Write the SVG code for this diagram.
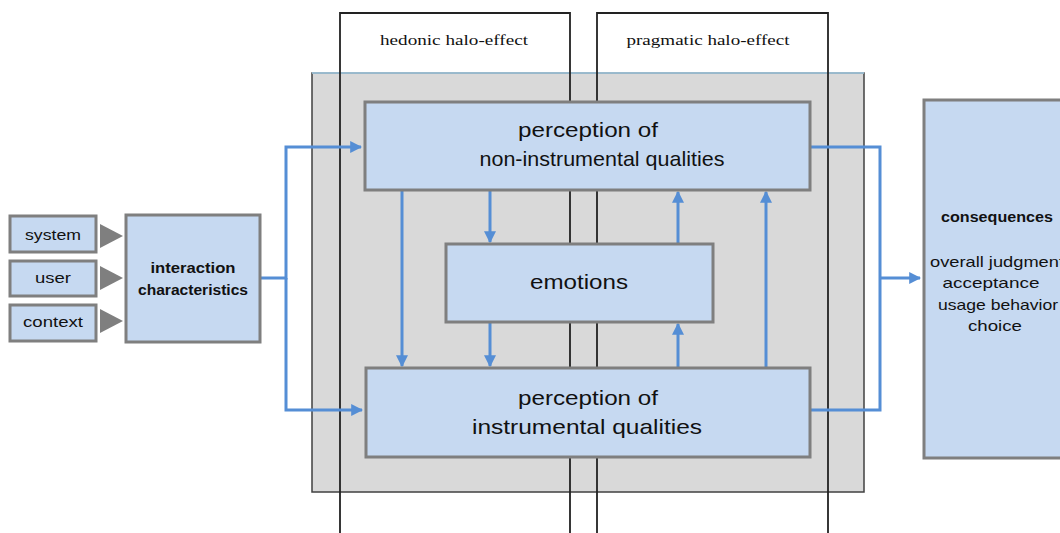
<svg xmlns="http://www.w3.org/2000/svg" width="1060" height="533" viewBox="0 0 1060 533">
<defs>
<style>
.box{fill:#c6d9f1;stroke:#7f7f7f;stroke-width:3}
.halo{fill:none;stroke:#222;stroke-width:1.8}
.conn{fill:none;stroke:#558ed5;stroke-width:3}
.t{font-family:"Liberation Sans",Arial,sans-serif;fill:#111;text-anchor:middle}
.s{font-family:"Liberation Serif","Times New Roman",serif;fill:#111;text-anchor:middle;font-size:15px}
.tri{fill:#7f7f7f}
</style>
<marker id="ah" viewBox="0 0 10 10" refX="9" refY="5" markerWidth="4" markerHeight="4" orient="auto" markerUnits="strokeWidth">
<path d="M0,0 L10,5 L0,10 z" fill="#558ed5"/>
</marker>
</defs>
<rect width="1060" height="533" fill="#fff"/>
<g id="frame">
<rect x="312" y="73" width="552" height="419" fill="#d9d9d9" stroke="#404040" stroke-width="1.5"/>
<line x1="312" y1="73" x2="864" y2="73" stroke="#aad4ee" stroke-width="1.5"/>
</g>
<g id="hedonic">
<path class="halo" d="M340,533 V13 H570 V533"/>
<text class="s" x="454" y="45" textLength="148" lengthAdjust="spacingAndGlyphs">hedonic halo-effect</text>
</g>
<g id="pragmatic">
<path class="halo" d="M597,533 V13 H828 V533"/>
<text class="s" x="708" y="45" textLength="163" lengthAdjust="spacingAndGlyphs">pragmatic halo-effect</text>
</g>
<g id="connectors">
<path class="conn" d="M260,278 H286 V147 H361" marker-end="url(#ah)"/>
<path class="conn" d="M286,278 V410 H362" marker-end="url(#ah)"/>
<path class="conn" d="M810,147 H880 V410 H810"/>
<path class="conn" d="M880,278 H920" marker-end="url(#ah)"/>
<path class="conn" d="M402,191 V366" marker-end="url(#ah)"/>
<path class="conn" d="M490,191 V242" marker-end="url(#ah)"/>
<path class="conn" d="M490,323 V366" marker-end="url(#ah)"/>
<path class="conn" d="M678,243 V192" marker-end="url(#ah)"/>
<path class="conn" d="M678,367 V324" marker-end="url(#ah)"/>
<path class="conn" d="M766,367 V192" marker-end="url(#ah)"/>
<polygon class="tri" points="100,224 123,236 100,248"/>
<polygon class="tri" points="100,266 123,278 100,290"/>
<polygon class="tri" points="100,309 123,321 100,333"/>
</g>
<g id="non-instrumental">
<rect class="box" x="365" y="102" width="445" height="88"/>
<text class="t" x="588" y="137" font-size="21" textLength="140" lengthAdjust="spacingAndGlyphs">perception of</text>
<text class="t" x="602" y="166" font-size="21" textLength="245" lengthAdjust="spacingAndGlyphs">non-instrumental qualities</text>
</g>
<g id="emotions">
<rect class="box" x="446" y="244" width="267" height="78"/>
<text class="t" x="579" y="289" font-size="21" textLength="98" lengthAdjust="spacingAndGlyphs">emotions</text>
</g>
<g id="instrumental">
<rect class="box" x="366" y="368" width="444" height="89"/>
<text class="t" x="588" y="405" font-size="21" textLength="140" lengthAdjust="spacingAndGlyphs">perception of</text>
<text class="t" x="587" y="434" font-size="21" textLength="230" lengthAdjust="spacingAndGlyphs">instrumental qualities</text>
</g>
<g id="system">
<rect class="box" x="10" y="216" width="86" height="36"/>
<text class="t" x="53" y="240" font-size="14" textLength="56" lengthAdjust="spacingAndGlyphs">system</text>
</g>
<g id="user">
<rect class="box" x="10" y="261" width="86" height="35"/>
<text class="t" x="53" y="283" font-size="14" textLength="36" lengthAdjust="spacingAndGlyphs">user</text>
</g>
<g id="context">
<rect class="box" x="10" y="305" width="86" height="36"/>
<text class="t" x="53" y="327" font-size="14" textLength="60" lengthAdjust="spacingAndGlyphs">context</text>
</g>
<g id="interaction">
<rect class="box" x="126" y="215" width="134" height="127"/>
<text class="t" x="193" y="273" font-size="14" font-weight="bold" textLength="85" lengthAdjust="spacingAndGlyphs">interaction</text>
<text class="t" x="193" y="295" font-size="14" font-weight="bold" textLength="110" lengthAdjust="spacingAndGlyphs">characteristics</text>
</g>
<g id="consequences">
<rect class="box" x="924" y="100" width="140" height="358"/>
<text class="t" x="997" y="222" font-size="15" font-weight="bold" textLength="112" lengthAdjust="spacingAndGlyphs">consequences</text>
<text class="t" x="997" y="267" font-size="15" textLength="134" lengthAdjust="spacingAndGlyphs">overall judgment</text>
<text class="t" x="991" y="288" font-size="15" textLength="97" lengthAdjust="spacingAndGlyphs">acceptance</text>
<text class="t" x="998" y="310" font-size="15" textLength="120" lengthAdjust="spacingAndGlyphs">usage behavior</text>
<text class="t" x="995" y="331" font-size="15" textLength="54" lengthAdjust="spacingAndGlyphs">choice</text>
</g>
</svg>
